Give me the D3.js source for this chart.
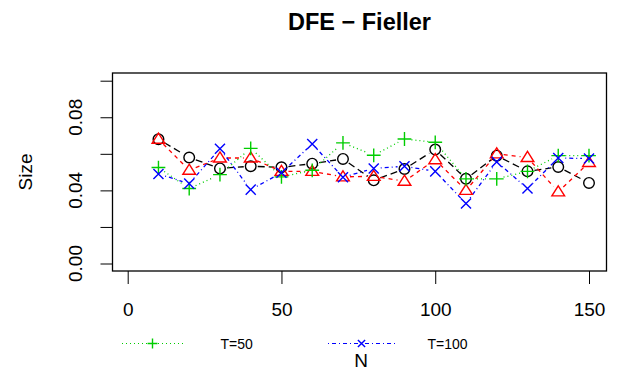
<!DOCTYPE html>
<html lang="en">
<head>
<meta charset="utf-8">
<title>DFE - Fieller</title>
<script src="https://cdn.jsdelivr.net/npm/d3@7"></script>
<style>
    body { margin: 0; background: #fff; }
    svg { font-family: "Liberation Sans", Arial, sans-serif; }
    .axis text { font-size: 19px; fill: #000; }
    .axis line { stroke: #000; }
    .axis path { display: none; }
</style>
</head>
<body>
<div id="chart"></div>
<script>

// Chart data: sample size N and empirical size for each series
const N = [10, 20, 30, 40, 50, 60, 70, 80, 90, 100, 110, 120, 130, 140, 150];
const sizeBlack = [0.068, 0.058, 0.052, 0.0532, 0.0526, 0.0546, 0.0572, 0.0455, 0.0517, 0.0623, 0.0463, 0.059, 0.0504, 0.0528, 0.0441];
const sizeRed   = [0.068, 0.051, 0.0577, 0.0577, 0.0504, 0.0504, 0.0474, 0.0477, 0.045, 0.0568, 0.040, 0.060, 0.058, 0.0392, 0.0553];
const sizeGreen = [0.0525, 0.041, 0.0486, 0.063, 0.0474, 0.051, 0.066, 0.0592, 0.0681, 0.0663, 0.0463, 0.0463, 0.0504, 0.059, 0.059];
const sizeBlue  = [0.049, 0.0437, 0.0628, 0.0404, 0.0496, 0.0654, 0.0472, 0.052, 0.0532, 0.0504, 0.0328, 0.0556, 0.041, 0.0577, 0.0574];

const xTicks = [0, 50, 100, 150];
const yTicks = [0, 0.02, 0.04, 0.06, 0.08, 0.10];
const yLabels = [0, 0.04, 0.08];
const legendNames = ["T=50", "T=100"];

const WIDTH = 626, HEIGHT = 372;
const BOX = {left: 112.5, right: 606.5, top: 73, bottom: 271};

let series = [
    {values: sizeBlack, color: "#000000", dash: "7,4", shape: "circle"},
    {values: sizeRed, color: "#ff0000", dash: "4,4", shape: "triangle"},
    {values: sizeGreen, color: "#00cd00", dash: "1,3", shape: "plus"},
    {values: sizeBlue, color: "#0000ff", dash: "1,3,4,3", shape: "cross"}
];

let svg = d3.select("#chart").append("svg")
    .attr("width", WIDTH)
    .attr("height", HEIGHT);

let xScale = d3.scaleLinear().domain([0, 150]).range([127.7, 589]);
let yScale = d3.scaleLinear().domain([0, 0.10]).range([263.5, 80.7]);

// title
svg.append("text")
    .attr("x", (BOX.left + BOX.right) / 2)
    .attr("y", 30)
    .attr("text-anchor", "middle")
    .style("font-size", "23.5px")
    .style("font-weight", "bold")
    .text("DFE \u2212 Fieller");

// box
svg.append("rect")
    .attr("x", BOX.left).attr("y", BOX.top)
    .attr("width", BOX.right - BOX.left)
    .attr("height", BOX.bottom - BOX.top)
    .attr("fill", "none").attr("stroke", "#000").attr("stroke-width", 1.3);

// x axis
svg.append("g")
    .attr("class", "axis")
    .attr("transform", "translate(0," + BOX.bottom + ")")
    .call(d3.axisBottom(xScale).tickValues(xTicks).tickSize(13).tickPadding(19).tickFormat(d3.format("d")));

// y axis (ticks only, labels rotated below)
svg.append("g")
    .attr("class", "axis")
    .attr("transform", "translate(" + BOX.left + ",0)")
    .call(d3.axisLeft(yScale).tickValues(yTicks).tickSize(12).tickFormat(""));

svg.selectAll(".ylab")
    .data(yLabels)
    .enter().append("text")
    .attr("class", "ylab")
    .attr("transform", d => "translate(82," + yScale(d) + ") rotate(-90)")
    .attr("text-anchor", "middle")
    .style("font-size", "19px")
    .text(d => d3.format(".2f")(d));

// axis titles
svg.append("text")
    .attr("transform", "translate(32," + (BOX.top + BOX.bottom) / 2 + ") rotate(-90)")
    .attr("text-anchor", "middle")
    .style("font-size", "19px")
    .text("Size");

svg.append("text")
    .attr("x", 361).attr("y", 367)
    .attr("text-anchor", "middle")
    .style("font-size", "19px")
    .text("N");

// marker drawing
function drawMarker(g, shape, x, y, r, color) {
    if (shape == "circle") {
        g.append("circle").attr("cx", x).attr("cy", y).attr("r", r)
            .attr("fill", "none").attr("stroke", color).attr("stroke-width", 1.4);
    } else if (shape == "triangle") {
        let h = r * 1.9;
        g.append("path")
            .attr("d", "M" + x + "," + (y - h * 0.6) + "L" + (x + r * 1.2) + "," + (y + h * 0.4)
                + "L" + (x - r * 1.2) + "," + (y + h * 0.4) + "Z")
            .attr("fill", "none").attr("stroke", color).attr("stroke-width", 1.4);
    } else if (shape == "plus") {
        let s = r * 1.3;
        g.append("path")
            .attr("d", "M" + (x - s) + "," + y + "H" + (x + s) + "M" + x + "," + (y - s) + "V" + (y + s))
            .attr("stroke", color).attr("stroke-width", 1.4);
    } else {
        let s = r * 0.95;
        g.append("path")
            .attr("d", "M" + (x - s) + "," + (y - s) + "L" + (x + s) + "," + (y + s)
                + "M" + (x - s) + "," + (y + s) + "L" + (x + s) + "," + (y - s))
            .attr("stroke", color).attr("stroke-width", 1.4);
    }
}

// lines with gaps around points (type = "b")
let plotArea = svg.append("g");
const GAP = 7;
series.forEach(s => {
    let pts = N.map((n, i) => [xScale(n), yScale(s.values[i])]);
    for (let i = 0; i < pts.length - 1; i++) {
        let [x0, y0] = pts[i], [x1, y1] = pts[i + 1];
        let len = Math.hypot(x1 - x0, y1 - y0);
        if (len <= 2 * GAP) continue;
        let ux = (x1 - x0) / len, uy = (y1 - y0) / len;
        plotArea.append("line")
            .attr("x1", x0 + ux * GAP).attr("y1", y0 + uy * GAP)
            .attr("x2", x1 - ux * GAP).attr("y2", y1 - uy * GAP)
            .attr("stroke", s.color).attr("stroke-width", 1.3)
            .attr("stroke-dasharray", s.dash);
    }
});
series.forEach(s => {
    N.forEach((n, i) => drawMarker(plotArea, s.shape, xScale(n), yScale(s.values[i]), 5.3, s.color));
});

// legend
let legendItems = [
    {name: legendNames[0], s: series[2], x0: 122, x1: 183, tx: 220.5},
    {name: legendNames[1], s: series[3], x0: 328, x1: 395, tx: 427.5}
];
const LY = 343.5;
legendItems.forEach(it => {
    svg.append("line")
        .attr("x1", it.x0).attr("x2", it.x1).attr("y1", LY).attr("y2", LY)
        .attr("stroke", it.s.color).attr("stroke-width", 1.2)
        .attr("stroke-dasharray", it.s.dash);
    drawMarker(svg, it.s.shape, (it.x0 + it.x1) / 2, LY, 3.8, it.s.color);
    svg.append("text")
        .attr("x", it.tx).attr("y", LY + 5)
        .style("font-size", "14px")
        .text(it.name);
});

</script>
</body>
</html>
